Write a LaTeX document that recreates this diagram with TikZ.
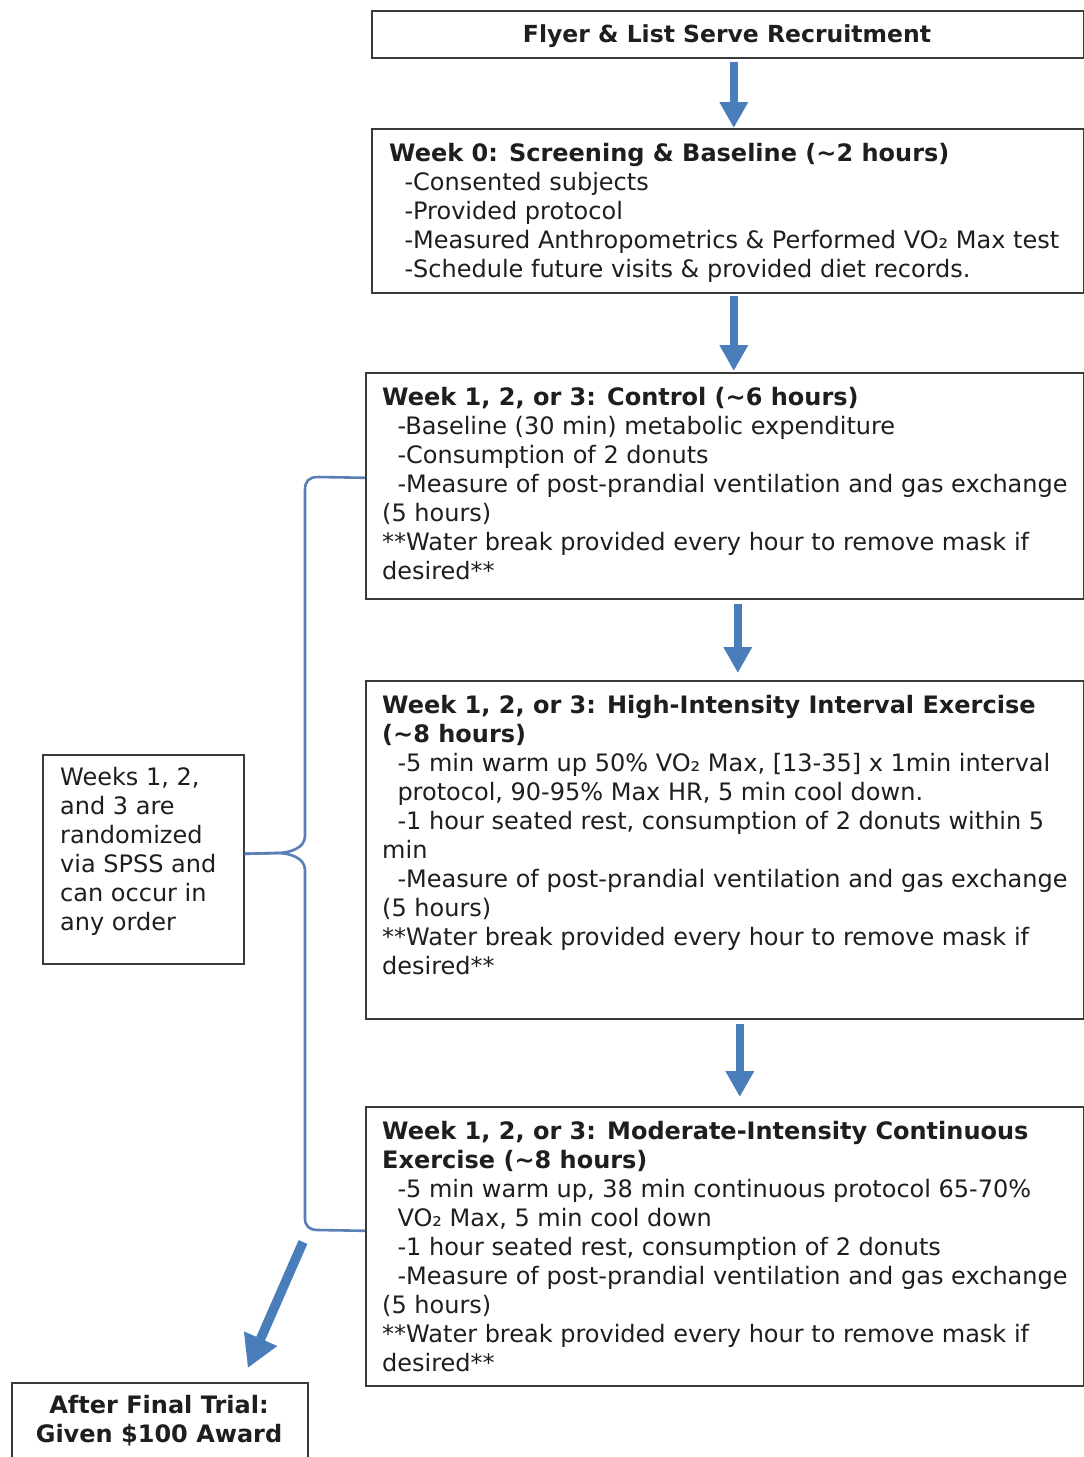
\documentclass[tikz,border=0pt]{standalone}
\usepackage{fontspec}
\setmainfont{DejaVu Sans}
\usetikzlibrary{arrows.meta,calc}
\definecolor{arrblue}{HTML}{4A7EBB}
\definecolor{braceblue}{HTML}{5A7FB4}
\definecolor{boxgray}{HTML}{3A3A3A}
\definecolor{txtc}{HTML}{1E1E1E}
\newcommand{\ind}{\hspace*{15.3pt}}
\tikzset{
  box/.style={draw=boxgray, line width=1.6pt, anchor=north west, inner sep=0pt, fill=none},
  txt/.style={anchor=north west, inner sep=0pt, align=left, text=txtc, font=\fontsize{24}{29}\selectfont},
  bigarrow/.style={draw=arrblue, line width=7.5pt, -{Triangle[width=27pt,length=26pt]}},
  diagarrow/.style={draw=arrblue, line width=9.5pt, -{Triangle[width=34pt,length=32pt]}},
  bracepath/.style={draw=braceblue, line width=2.6pt},
}
\begin{document}
\begin{tikzpicture}[x=1pt,y=-1pt]
\useasboundingbox (0,0) rectangle (1084,1457);
\fill[white] (0,0) rectangle (1084,1457);

% boxes
\node[box, minimum width=712pt, minimum height=47pt] (b1) at (371,10) {};
\node[box, minimum width=712pt, minimum height=164pt] (b2) at (371,128) {};
\node[box, minimum width=718pt, minimum height=226pt] (b3) at (365,372) {};
\node[box, minimum width=718pt, minimum height=338pt] (b4) at (365,680) {};
\node[box, minimum width=718pt, minimum height=279pt] (b5) at (365,1106) {};
\node[box, minimum width=201pt, minimum height=209pt] (lb) at (42,754) {};
\node[box, minimum width=296pt, minimum height=80pt] (fin) at (11,1382) {};

% texts
\node[anchor=base, inner sep=0pt, text=txtc, font=\fontsize{23.5}{29}\selectfont\bfseries] (t1) at (727,42.7) {Flyer \& List Serve Recruitment};

\node[txt] (t2) at (389,140.7) {\strut\textbf{Week 0: Screening \& Baseline (\textasciitilde2 hours)}\\
\ind-Consented subjects\\
\ind-Provided protocol\\
\ind-Measured Anthropometrics \& Performed VO₂ Max test\\
\ind-Schedule future visits \& provided diet records.};

\node[txt] (t3) at (382,384.7) {\strut\textbf{Week 1, 2, or 3: Control (\textasciitilde6 hours)}\\
\ind-Baseline (30 min) metabolic expenditure\\
\ind-Consumption of 2 donuts\\
\ind-Measure of post-prandial ventilation and gas exchange\\
(5 hours)\\
**Water break provided every hour to remove mask if\\
desired**};

\node[txt] (t4) at (382,693) {\strut\textbf{Week 1, 2, or 3: High-Intensity Interval Exercise}\\
\textbf{(\textasciitilde8 hours)}\\
\ind-5 min warm up 50\% VO₂ Max, [13-35] x 1min interval\\
\ind protocol, 90-95\% Max HR, 5 min cool down.\\
\ind-1 hour seated rest, consumption of 2 donuts within 5\\
min\\
\ind-Measure of post-prandial ventilation and gas exchange\\
(5 hours)\\
**Water break provided every hour to remove mask if\\
desired**};

\node[txt] (t5) at (382,1119) {\strut\textbf{Week 1, 2, or 3: Moderate-Intensity Continuous}\\
\textbf{Exercise (\textasciitilde8 hours)}\\
\ind-5 min warm up, 38 min continuous protocol 65-70\%\\
\ind VO₂ Max, 5 min cool down\\
\ind-1 hour seated rest, consumption of 2 donuts\\
\ind-Measure of post-prandial ventilation and gas exchange\\
(5 hours)\\
**Water break provided every hour to remove mask if\\
desired**};

\node[txt] (tl) at (60,764.7) {\strut Weeks 1, 2,\\
and 3 are\\
randomized\\
via SPSS and\\
can occur in\\
any order};

\node[txt, anchor=north, align=center, font=\fontsize{24}{29}\selectfont\bfseries] (tf) at (159,1392.7) {\strut After Final Trial:\\
Given \$100 Award};

% arrows
\draw[bigarrow] ($(b1.south)+(6,3)$) -- ($(b2.north)+(6,0)$);
\draw[bigarrow] ($(b2.south)+(6,2)$) -- ($(b3.north)+(9,-1)$);
\draw[bigarrow] ($(b3.south)+(13,4)$) -- ($(b4.north)+(13,-7)$);
\draw[bigarrow] ($(b4.south)+(15,4)$) -- ($(b5.north)+(15,-9)$);
\coordinate (ds) at (303,1242);
\draw[diagarrow] (ds) -- ($(fin.north)+(88,-14)$);

% brace
\draw[bracepath] ($(b3.west)+(0,-8)$) -- (318,477) .. controls (309,477) and (305,481) .. (305,490)
  -- (305,836) .. controls (305,848) and (290,853) .. (277,853) -- ($(lb.east)+(0,-5.5)$);
\draw[bracepath] ($(lb.east)+(0,-5.5)$) -- (277,853) .. controls (290,853) and (305,858) .. (305,870)
  -- (305,1218) .. controls (305,1226) and (309,1230) .. (318,1230) -- ($(b5.west)+(0,-15.5)$);
\end{tikzpicture}
\end{document}
